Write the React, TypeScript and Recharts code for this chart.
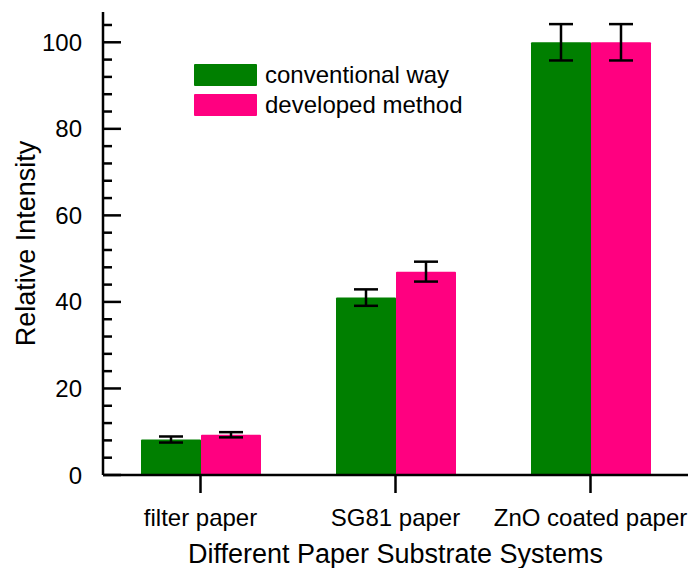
import React from "react";
import { Bar, BarChart, ErrorBar, Legend, ReferenceLine, XAxis, YAxis } from "recharts";

const categories = ["filter paper", "SG81 paper", "ZnO coated paper"];
const conventional = [8.2, 41, 100];
const conventionalErr = [0.7, 1.9, 4.2];
const developed = [9.3, 47, 100];
const developedErr = [0.6, 2.3, 4.2];
const majorTicks = [0, 20, 40, 60, 80, 100];
const minorTicks = [4, 8, 12, 16, 24, 28, 32, 36, 44, 48, 52, 56, 64, 68, 72, 76, 84, 88, 92, 96, 104];

const GREEN = "#007f00";
const PINK = "#ff0080";
const FONT = "'Liberation Sans', Arial, sans-serif";
const LINE = { stroke: "#000", strokeWidth: 2.5 };

const data = categories.map((name, i) => ({
  name,
  conv: conventional[i],
  convErr: conventionalErr[i],
  dev: developed[i],
  devErr: developedErr[i],
}));

function LegendBox() {
  const items = [
    { label: "conventional way", color: GREEN },
    { label: "developed method", color: PINK },
  ];
  return (
    <div style={{ fontFamily: FONT, fontSize: 24, color: "#000" }}>
      {items.map((it) => (
        <div key={it.label} style={{ display: "flex", alignItems: "center", height: 30 }}>
          <div style={{ width: 63, height: 22, background: it.color, borderRadius: 1, marginRight: 8 }} />
          <span style={{ lineHeight: "22px" }}>{it.label}</span>
        </div>
      ))}
    </div>
  );
}

export default function App() {
  return (
    <div style={{ position: "absolute", left: 0, top: 0, background: "#fff" }}>
      <BarChart
        width={692}
        height={568}
        data={data}
        margin={{ top: 12, right: 4, bottom: 0, left: 0 }}
        barGap={0}
        barSize={60}
      >
        <XAxis
          dataKey="name"
          height={93}
          axisLine={LINE}
          tickLine={LINE}
          tickSize={18}
          tickMargin={16}
          tick={{ fill: "#000", fontSize: 24, fontFamily: FONT }}
          label={{
            value: "Different Paper Substrate Systems",
            position: "insideBottom",
            offset: 5,
            fill: "#000",
            fontSize: 27,
            fontFamily: FONT,
          }}
        />
        <XAxis xAxisId="top" orientation="top" dataKey="name" height={0} tick={false} tickLine={false} axisLine={LINE} />
        <YAxis
          width={103}
          domain={[0, 107]}
          ticks={majorTicks}
          interval={0}
          tickSize={21}
          tickMargin={0}
          tickLine={false}
          axisLine={LINE}
          tick={{ fill: "#000", fontSize: 24, fontFamily: FONT }}
          label={{
            value: "Relative Intensity",
            angle: -90,
            position: "insideLeft",
            offset: 25,
            fill: "#000",
            fontSize: 27,
            fontFamily: FONT,
            style: { textAnchor: "middle" },
          }}
        />
        <YAxis yAxisId="right" orientation="right" width={0} domain={[0, 107]} tick={false} tickLine={false} axisLine={LINE} />
        <Legend
          layout="horizontal"
          verticalAlign="middle"
          align="center"
          content={<LegendBox />}
          wrapperStyle={{ top: 60, left: 194, width: 300 }}
        />
        <Bar dataKey="conv" name="conventional way" fill={GREEN} radius={1} isAnimationActive={false}>
          <ErrorBar dataKey="convErr" width={12} stroke="#000" strokeWidth={2.5} isAnimationActive={false} />
        </Bar>
        <Bar dataKey="dev" name="developed method" fill={PINK} radius={1} isAnimationActive={false}>
          <ErrorBar dataKey="devErr" width={12} stroke="#000" strokeWidth={2.5} isAnimationActive={false} />
        </Bar>
        {/* inward y ticks: only the first dash of each reference line is drawn */}
        {majorTicks.map((v) => (
          <ReferenceLine key={"M" + v} y={v} ifOverflow="visible" stroke="#000" strokeWidth={2.5} strokeDasharray="18 2000" />
        ))}
        {minorTicks.map((v) => (
          <ReferenceLine key={"m" + v} y={v} ifOverflow="visible" stroke="#000" strokeWidth={2.5} strokeDasharray="9 2000" />
        ))}
      </BarChart>
    </div>
  );
}
